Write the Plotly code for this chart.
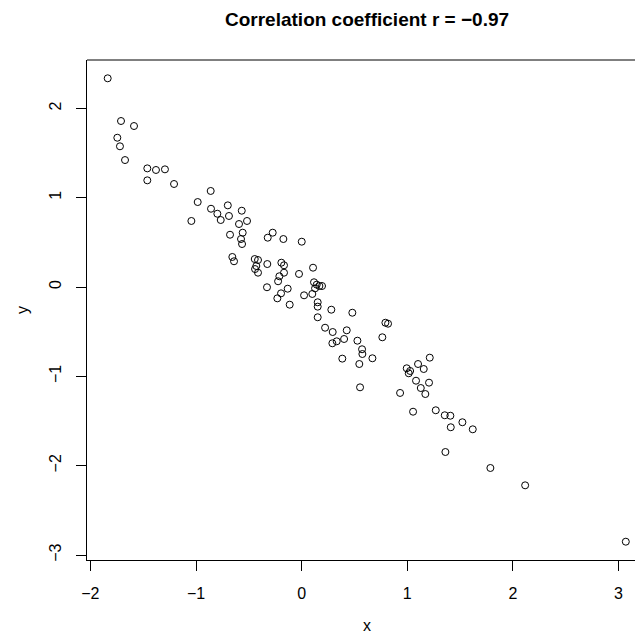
import plotly.graph_objects as go

# Sample data: x values and matching y values
x_vals = [
    -1.836, -1.710, -1.587, -1.745, -1.720, -1.672, -1.461, -1.379, -1.294, -1.461,
    -1.208, -0.861, -0.984, -0.858, -0.699, -1.044, -0.798, -0.766, -0.688, -0.567,
    -0.593, -0.517, -0.558, -0.678, -0.574, -0.564, -0.274, -0.321, -0.173, 0.001,
    -0.656, -0.640, -0.444, -0.413, -0.429, -0.441, -0.413, -0.325, -0.192, -0.167,
    -0.167, -0.211, -0.223, -0.025, 0.108, -0.132, -0.328, -0.195, -0.230, -0.113,
    0.023, 0.101, 0.117, 0.143, 0.168, 0.193, 0.127, 0.152, 0.152, 0.281,
    0.480, 0.152, 0.222, 0.294, 0.427, 0.402, 0.332, 0.291, 0.528, 0.764,
    0.793, 0.818, 0.572, 0.575, 0.670, 0.385, 0.546, 0.553, 0.995, 1.027,
    1.014, 1.102, 1.213, 1.156, 1.083, 1.206, 1.128, 1.171, 0.932, 1.055,
    1.270, 1.355, 1.408, 1.412, 1.522, 1.620, 1.361, 1.787, 2.116, 3.069,
]
y_vals = [
    2.336, 1.858, 1.802, 1.671, 1.575, 1.421, 1.328, 1.310, 1.317, 1.194,
    1.153, 1.075, 0.951, 0.876, 0.914, 0.739, 0.820, 0.750, 0.795, 0.854,
    0.705, 0.739, 0.608, 0.585, 0.537, 0.481, 0.608, 0.552, 0.537, 0.507,
    0.336, 0.288, 0.313, 0.302, 0.235, 0.201, 0.160, 0.257, 0.272, 0.243,
    0.160, 0.120, 0.064, 0.146, 0.216, -0.019, -0.003, -0.071, -0.127, -0.198,
    -0.093, -0.078, 0.053, 0.026, 0.011, 0.011, -0.015, -0.171, -0.220, -0.254,
    -0.288, -0.339, -0.456, -0.504, -0.485, -0.582, -0.608, -0.630, -0.601, -0.563,
    -0.400, -0.411, -0.697, -0.750, -0.798, -0.802, -0.862, -1.123, -0.910, -0.940,
    -0.966, -0.862, -0.791, -0.918, -1.049, -1.071, -1.131, -1.198, -1.186, -1.396,
    -1.380, -1.436, -1.441, -1.570, -1.514, -1.593, -1.847, -2.026, -2.220, -2.851,
]

x_ticks = [-2, -1, 0, 1, 2, 3]
y_ticks = [-3, -2, -1, 0, 1, 2]

title_text = "Correlation coefficient r = \u22120.97"
x_label = "x"
y_label = "y"

FONT = "Liberation Sans, Arial, Helvetica, sans-serif"
W, H = 635, 634
L, R, T, B = 87, 0, 60, 74

fig = go.Figure(
    go.Scatter(
        x=x_vals,
        y=y_vals,
        mode="markers",
        marker=dict(symbol="circle-open", size=7, color="black",
                    line=dict(width=1, color="black")),
        hoverinfo="x+y",
    )
)

axis_common = dict(
    showgrid=False,
    zeroline=False,
    showline=True,
    linecolor="black",
    linewidth=1,
    ticks="outside",
    ticklen=10,
    tickwidth=1,
    tickcolor="black",
    ticklabelstandoff=9,
    tickfont=dict(family=FONT, size=16, color="black"),
)

fig.update_xaxes(range=[-2.032, 3.156], tickvals=x_ticks, mirror=False, **axis_common)
fig.update_yaxes(range=[-3.056, 2.541], tickvals=y_ticks, tickangle=-90, mirror=False,
                 **axis_common)

plot_w = W - L - R
plot_h = H - T - B
center_px = 366.5

fig.update_layout(
    width=W,
    height=H,
    margin=dict(l=L, r=R, t=T, b=B, pad=0),
    paper_bgcolor="white",
    plot_bgcolor="white",
    showlegend=False,
    font=dict(family=FONT, color="black"),
    shapes=[
        # top edge of the plotting box
        dict(type="line", xref="paper", yref="paper", x0=0, x1=1, y0=1, y1=1,
             line=dict(color="black", width=1)),
    ],
    annotations=[
        dict(text=f"<b>{title_text}</b>", xref="paper", yref="paper",
             x=(center_px - L) / plot_w, y=1 + (T - 20) / plot_h,
             xanchor="center", yanchor="middle", showarrow=False,
             font=dict(family=FONT, size=19, color="black")),
        dict(text=x_label, xref="paper", yref="paper",
             x=(center_px - L) / plot_w, y=-(625 - (H - B)) / plot_h,
             xanchor="center", yanchor="middle", showarrow=False,
             font=dict(family=FONT, size=16, color="black")),
        dict(text=y_label, xref="paper", yref="paper",
             x=(22 - L) / plot_w, y=0.5, textangle=-90,
             xanchor="center", yanchor="middle", showarrow=False,
             font=dict(family=FONT, size=16, color="black")),
    ],
)

fig.write_html("out.html")
